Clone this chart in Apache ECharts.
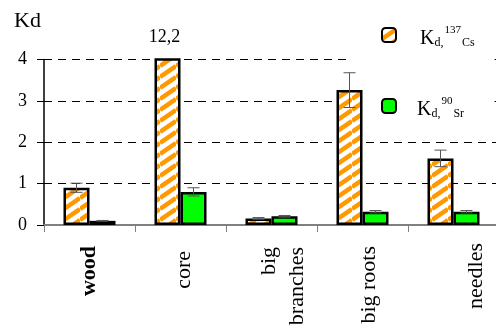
<!DOCTYPE html>
<html>
<head>
<meta charset="utf-8">
<script src="https://cdn.jsdelivr.net/npm/echarts@6/dist/echarts.min.js"></script>
<style>
  html, body { margin: 0; padding: 0; background: #fff; }
  #chart { width: 496px; height: 332px; }
</style>
</head>
<body>
<div id="chart"></div>
<script>
// Distribution coefficients of 137Cs and 90Sr in tree compartments
const categories = ['wood', 'core', 'big\nbranches', 'big roots', 'needles'];
const csValues = [0.90, 12.2, 0.16, 3.26, 1.61];
const csErrors = [0.11, 0, 0.02, 0.42, 0.20];
const srValues = [0.10, 0.80, 0.21, 0.32, 0.32];
const srErrors = [0.01, 0.10, 0.02, 0.03, 0.03];
const yTicks = [0, 1, 2, 3, 4];

const SERIF = "Liberation Serif, Times New Roman, serif";
const ORANGE = '#ff9900';
const GREEN = '#00ff00';
const BAR_W = 26;
const Y_MAX = yTicks[yTicks.length - 1];

function serif(size, extra) {
  return Object.assign({ fontFamily: SERIF, fontSize: size, color: '#000', fontWeight: 'normal' }, extra || {});
}

// rotated category captions: per-label nudges
const captionRich = {
  c0: serif(22, { padding: [0, 3, 0, 0], fontWeight: 'bold', lineHeight: 28 }),
  c1: serif(22, { padding: [8, 8, 0, 0], lineHeight: 28 }),
  c2: serif(22, { padding: [0, 4, 0, 0], lineHeight: 28 }),
  c3: serif(22, { padding: [13, 3, 0, 0], lineHeight: 28 }),
  c4: serif(22, { padding: [46, 0, 0, 0], lineHeight: 28 }),
  gap: serif(22, { lineHeight: 24 })
};

function captionFormatter(value, index) {
  const lines = value.split('\n').map(line => `{c${index}|${line}}`);
  // two-line captions get a leading spacer line
  if (lines.length > 1) lines.unshift('{gap| }');
  return lines.join('\n');
}

// diagonal orange hatching on white
function stripeTile() {
  const w = 16, h = 11;
  const c = document.createElement('canvas');
  c.width = w; c.height = h;
  const ctx = c.getContext('2d');
  ctx.fillStyle = '#fff';
  ctx.fillRect(0, 0, w, h);
  ctx.strokeStyle = ORANGE;
  ctx.lineWidth = 4.5;
  for (let k = -1; k <= 2; k++) {
    ctx.beginPath();
    ctx.moveTo(0, h * (k + 1));
    ctx.lineTo(w, h * k);
    ctx.stroke();
  }
  return c;
}

function errorSeries(values, errors, side) {
  return {
    type: 'custom',
    z: 3,
    silent: true,
    data: values.map((v, i) => [i, v, errors[i]]),
    renderItem(params, api) {
      const i = api.value(0), v = api.value(1), e = api.value(2);
      if (!e || v > Y_MAX) return;
      const top = api.coord([i, v + e]);
      const bot = api.coord([i, v - e]);
      const x = top[0] + side * BAR_W / 2;
      const cap = 6;
      const st = { stroke: '#555', lineWidth: 1 };
      return {
        type: 'group',
        children: [
          { type: 'line', shape: { x1: x, y1: top[1], x2: x, y2: bot[1] }, style: st },
          { type: 'line', shape: { x1: x - cap, y1: top[1], x2: x + cap, y2: top[1] }, style: st },
          { type: 'line', shape: { x1: x - cap, y1: bot[1], x2: x + cap, y2: bot[1] }, style: st }
        ]
      };
    }
  };
}

const legendText = {
  'Kd,137Cs': '{k1|K}{sub|d,}{sup|137}{sub|Cs}',
  'Kd,90Sr': '{k2|K}{sub|d,}{sup|90}{sub|Sr}'
};

const chart = echarts.init(document.getElementById('chart'), null, { renderer: 'canvas' });

chart.setOption({
  animation: false,
  backgroundColor: '#fff',
  textStyle: { fontFamily: SERIF },
  title: {
    text: '{t|Kd}',
    left: 14,
    top: 10,
    padding: 0,
    textStyle: serif(22, { rich: { t: serif(22) } })
  },
  grid: {
    left: 44, right: -3, top: 59.5, bottom: 107,
    containLabel: false,
    outerBoundsMode: 'none'
  },
  legend: {
    orient: 'vertical',
    left: 352,
    top: 12,
    padding: [9, 20, 11, 29],
    itemGap: 43,
    itemWidth: 14,
    itemHeight: 14,
    backgroundColor: '#fff',
    z: 1,
    selectedMode: false,
    data: ['Kd,137Cs', 'Kd,90Sr'],
    formatter: name => legendText[name],
    textStyle: serif(12, {
      rich: {
        k1: serif(20, { lineHeight: 20, padding: [7, 0, 0, 19] }),
        k2: serif(20, { lineHeight: 20, padding: [7, 0, 0, 16] }),
        sub: serif(12, { lineHeight: 12, padding: [16, 0, 0, 0] }),
        sup: serif(11, { lineHeight: 12, padding: [0, 1, 9, 1] })
      }
    })
  },
  xAxis: {
    type: 'category',
    data: categories,
    boundaryGap: true,
    axisLine: { lineStyle: { color: '#808080', width: 2 } },
    axisTick: { show: true, length: 7, lineStyle: { color: '#808080', width: 1 } },
    axisLabel: Object.assign(serif(22), {
      rotate: 90,
      margin: 18,
      interval: 0,
      formatter: captionFormatter,
      rich: captionRich
    }),
    splitLine: { show: false }
  },
  yAxis: {
    type: 'value',
    min: yTicks[0],
    max: Y_MAX,
    interval: 1,
    axisLine: { show: true, lineStyle: { color: '#000', width: 1.5 } },
    axisTick: { show: true, length: 7, lineStyle: { color: '#000', width: 1 } },
    axisLabel: Object.assign(serif(18), {
      margin: 17,
      formatter: v => `{v|${v}}`,
      rich: { v: serif(18) }
    }),
    splitLine: {
      show: true,
      showMinLine: false,
      lineStyle: { color: '#000', width: 1, type: [8, 6] }
    }
  },
  series: [
    {
      name: 'Kd,137Cs',
      type: 'bar',
      barWidth: BAR_W,
      barGap: '0%',
      clip: true,
      itemStyle: {
        color: { image: stripeTile(), repeat: 'repeat' },
        borderColor: '#000',
        borderWidth: 2.5
      },
      label: Object.assign(serif(18), {
        show: false,
        position: 'top',
        distance: 12,
        offset: [-3, 0],
        formatter: p => `{l|${String(p.value).replace('.', ',')}}`,
        rich: { l: serif(18) }
      }),
      data: csValues.map(v => v > Y_MAX ? { value: v, label: { show: true } } : v)
    },
    {
      name: 'Kd,90Sr',
      type: 'bar',
      barWidth: BAR_W,
      barGap: '0%',
      itemStyle: {
        color: GREEN,
        borderColor: '#000',
        borderWidth: 2.5
      },
      data: srValues
    },
    errorSeries(csValues, csErrors, -1),
    errorSeries(srValues, srErrors, 1)
  ]
});
</script>
</body>
</html>
